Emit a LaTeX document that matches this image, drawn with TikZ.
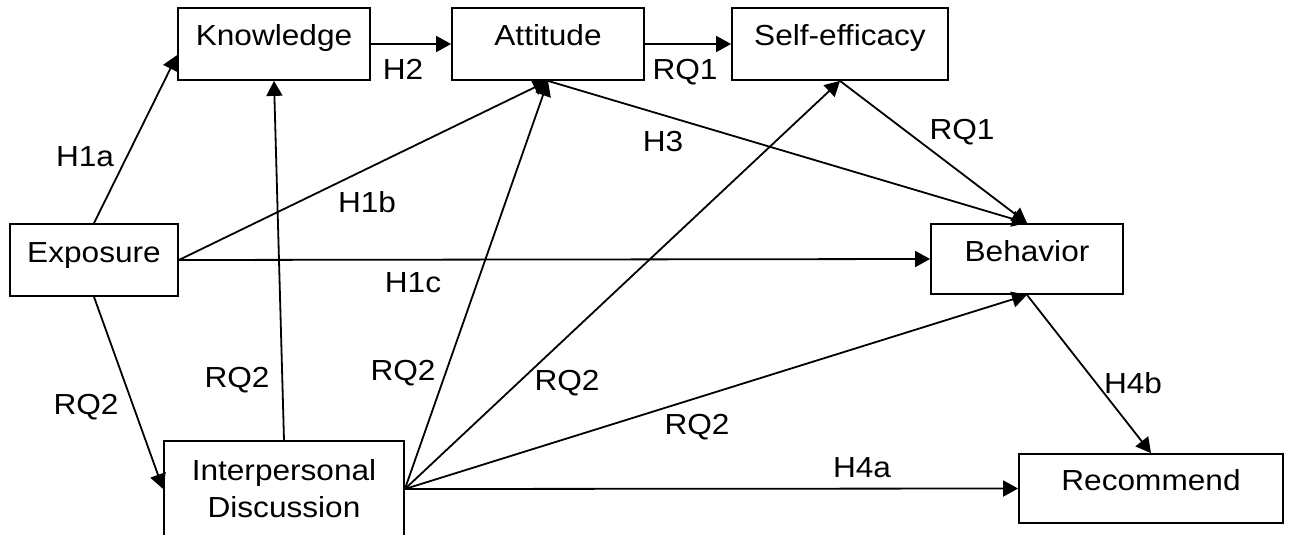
\documentclass[tikz,border=0pt]{standalone}
\usepackage{fontspec}
\setmainfont{Liberation Sans}[FakeStretch=1.09]
\usetikzlibrary{positioning, calc, arrows.meta}

\begin{document}
\begin{tikzpicture}[x=0.5pt, y=-0.5pt,
		box/.style={draw, line width=0.9pt, inner sep=0pt, align=center, font=\fontsize{14.5}{18.5}\selectfont},
		one/.style={text height=12pt, text depth=10pt},
		lab/.style={inner sep=0pt, font=\fontsize{14.5}{18.5}\selectfont},
		arr/.style={-{Triangle[length=7.5pt, width=8pt]}, line width=0.9pt}]
		\useasboundingbox (0,0) rectangle (1290,535);
		
		\node[box, one, minimum width=96pt, minimum height=36pt] (knowledge) at (274,44) {Knowledge};
		\node[box, one, minimum width=96pt, minimum height=36pt] (attitude) at (548,44) {Attitude};
		\node[box, one, minimum width=108pt, minimum height=36pt] (selfeff) at (840,44) {Self-efficacy};
		\node[box, one, minimum width=84pt, minimum height=36pt] (exposure) at (94,260) {Exposure};
		\node[box, one, minimum width=96pt, minimum height=35pt] (behavior) at (1027,259) {Behavior};
		\node[box, one, minimum width=132pt, minimum height=34.5pt] (recommend) at (1151,488.5) {Recommend};
		\node[box, minimum width=120pt, minimum height=48pt] (disc) at (284,489) {Interpersonal\\Discussion};
		
		\draw[arr] (exposure.north) -- ($(knowledge.south west)!0.35!(knowledge.north west)$);
		\draw[arr] (knowledge.east) -- (attitude.west);
		\draw[arr] (attitude.east) -- (selfeff.west);
		\draw[arr] (exposure.east) -- (attitude.south);
		\draw[arr] (exposure.east) -- (behavior.west);
		\draw[arr] (exposure.south) -- (disc.west);
		\draw[arr] (attitude.south) -- (behavior.north);
		\draw[arr] (selfeff.south) -- (behavior.north);
		\draw[arr] (disc.north) -- (knowledge.south);
		\draw[arr] (disc.east) -- (attitude.south);
		\draw[arr] (disc.east) -- (selfeff.south);
		\draw[arr] (disc.east) -- (behavior.south);
		\draw[arr] (disc.east) -- (recommend.west);
		\draw[arr] (behavior.south) -- (recommend.north);
		
		\node[lab] (h2) at (403,69) {H2};
		\node[lab] (rq1a) at (685,72) {RQ1};
		\node[lab] (h1a) at (85,157) {H1a};
		\node[lab] (h1b) at (367,202) {H1b};
		\node[lab] (h3) at (663,142) {H3};
		\node[lab] (rq1b) at (962,132) {RQ1};
		\node[lab] (h1c) at (413,283) {H1c};
		\node[lab] (rq2a) at (86,407) {RQ2};
		\node[lab] (rq2b) at (237,380) {RQ2};
		\node[lab] (rq2c) at (403,373) {RQ2};
		\node[lab] (rq2d) at (567,383) {RQ2};
		\node[lab] (rq2e) at (697,427) {RQ2};
		\node[lab] (h4a) at (862,468) {H4a};
		\node[lab] (h4b) at (1133,383) {H4b};
		
		\end{tikzpicture}
\end{document}
